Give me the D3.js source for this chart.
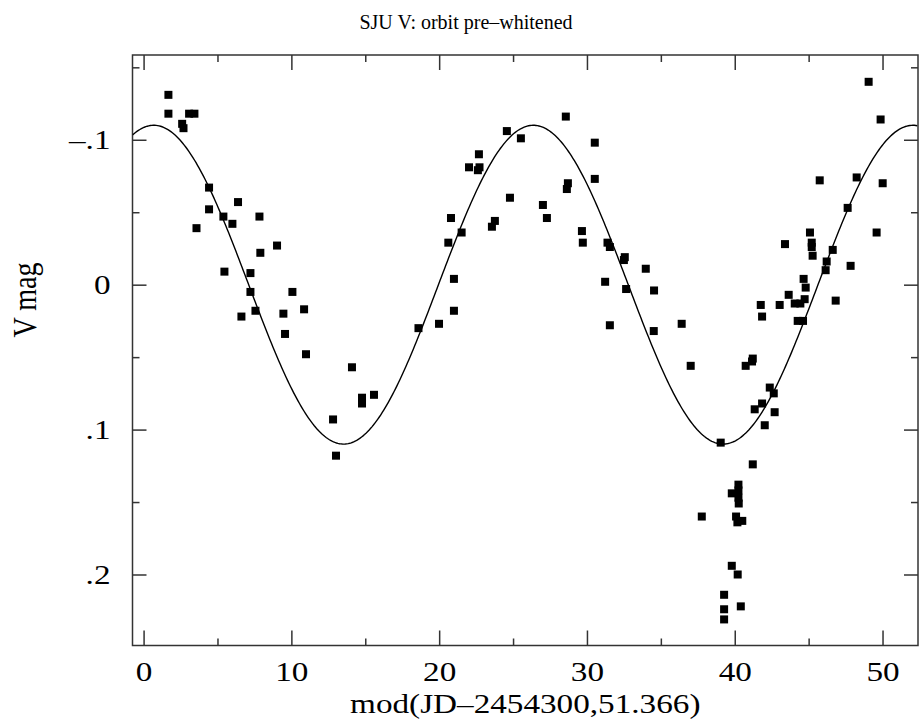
<!DOCTYPE html>
<html>
<head>
<meta charset="utf-8">
<script src="https://cdn.jsdelivr.net/npm/d3@7"></script>
<style>
  html, body { margin: 0; padding: 0; background: #fff; }
  svg { display: block; }
  text { font-family: "Liberation Serif", "Times New Roman", serif; fill: #000; }
</style>
</head>
<body>
<svg id="chart" width="919" height="728"></svg>
<script>
// ---- data ----
const phaseDays = [
  1.68, 1.68, 3.08, 3.44, 2.61, 2.70, 4.43, 4.43, 6.39, 5.40,
  6.01, 7.84, 3.58, 9.03, 7.90, 5.47, 7.23, 7.23, 10.07, 6.62,
  7.57, 9.46, 10.86, 9.57, 10.99, 14.10, 14.78, 14.78, 15.59, 12.82,
  13.02, 18.60, 28.57, 24.58, 25.53, 30.53, 22.69, 22.02, 22.73, 22.62,
  30.53, 28.71, 28.64, 24.79, 27.02, 27.29, 20.80, 21.52, 20.62, 23.77,
  23.57, 29.66, 29.72, 31.39, 31.55, 32.56, 32.50, 33.98, 21.00, 31.23,
  32.65, 34.54, 21.00, 19.99, 31.55, 34.52, 36.41, 37.02, 49.06, 49.87,
  45.75, 48.25, 50.01, 47.64, 49.60, 45.09, 43.40, 45.21, 45.21, 46.63,
  45.27, 46.22, 47.84, 46.15, 44.66, 44.80, 43.65, 41.76, 43.04, 44.06,
  44.44, 44.73, 46.83, 41.85, 44.26, 44.62, 41.22, 40.74, 41.17, 42.37,
  42.64, 41.85, 41.35, 42.70, 42.03, 39.05, 41.22, 40.25, 39.80, 40.25,
  40.25, 40.27, 37.77, 40.09, 40.18, 40.51, 39.80, 40.20, 39.28, 40.41,
  39.28, 39.28
];
const vMag = [
  -0.131, -0.118, -0.118, -0.118, -0.111, -0.108, -0.067, -0.052, -0.057, -0.047,
  -0.042, -0.047, -0.039, -0.027, -0.022, -0.009, -0.008, 0.005, 0.005, 0.022,
  0.018, 0.020, 0.017, 0.034, 0.048, 0.057, 0.078, 0.082, 0.076, 0.093,
  0.118, 0.030, -0.116, -0.106, -0.101, -0.098, -0.090, -0.081, -0.081, -0.079,
  -0.073, -0.070, -0.066, -0.060, -0.055, -0.046, -0.046, -0.036, -0.029, -0.044,
  -0.040, -0.037, -0.029, -0.029, -0.026, -0.019, -0.017, -0.011, -0.004, -0.002,
  0.003, 0.004, 0.018, 0.027, 0.028, 0.032, 0.027, 0.056, -0.140, -0.114,
  -0.072, -0.074, -0.070, -0.053, -0.036, -0.036, -0.028, -0.029, -0.026, -0.024,
  -0.020, -0.016, -0.013, -0.010, -0.004, 0.002, 0.007, 0.014, 0.014, 0.013,
  0.013, 0.010, 0.011, 0.022, 0.025, 0.025, 0.051, 0.056, 0.053, 0.071,
  0.075, 0.082, 0.086, 0.088, 0.097, 0.109, 0.124, 0.138, 0.144, 0.142,
  0.147, 0.151, 0.160, 0.160, 0.164, 0.163, 0.194, 0.200, 0.214, 0.222,
  0.224, 0.231
];
// fitted orbital (sinusoid) model drawn through the data
const fitAmplitude = 0.11;     // mag
const fitPeriod = 25.683;      // days (half of 51.366)
const fitPeakPhase = 0.69;     // day of brightest (most negative) model value

const xMajorTicks = [0, 10, 20, 30, 40, 50];
const xMinorTicks = [5, 15, 25, 35, 45];
const yMajorTicks = [-0.1, 0, 0.1, 0.2];
const yMajorLabels = ["\u2013.1", "0", ".1", ".2"];
const yMinorTicks = [-0.15, -0.05, 0.05, 0.15];

const titleText = "SJU V: orbit pre\u2013whitened";
const xLabelText = "mod(JD\u20132454300,51.366)";
const yLabelText = "V mag";

// ---- layout ----
const svg = d3.select("#chart");
const L = 132.5, R = 918, T = 55, B = 645.5;
const SX = 1.23;   // the reference's lettering is drawn wider than tall

const x = d3.scaleLinear().domain([-0.75, 52.4]).range([L, R]);
const y = d3.scaleLinear().domain([-0.1585, 0.249]).range([T, B]);

const frameColor = "#333";

// frame
svg.append("rect")
  .attr("x", L).attr("y", T).attr("width", R - L).attr("height", B - T)
  .attr("fill", "none").attr("stroke", frameColor).attr("stroke-width", 1.5);

function styleAxis(g) {
  g.select(".domain").remove();
  g.selectAll(".tick line").attr("stroke", frameColor).attr("stroke-width", 1.5);
  g.selectAll(".tick text")
    .style("font-family", "'Liberation Serif', 'Times New Roman', serif")
    .style("font-size", "27px").attr("fill", "#000")
    .each(function () {
      const t = d3.select(this);
      const tx = +t.attr("x") || 0;
      t.attr("x", 0).attr("transform", `translate(${tx},0) scale(${SX},1)`);
    });
}

const yFmt = d => yMajorLabels[yMajorTicks.indexOf(d)];

// bottom
svg.append("g").attr("transform", `translate(0,${B})`)
  .call(d3.axisBottom(x).tickValues(xMajorTicks).tickSizeInner(-15).tickSizeOuter(0).tickPadding(16).tickFormat(d3.format("d")))
  .call(styleAxis);
svg.append("g").attr("transform", `translate(0,${B})`)
  .call(d3.axisBottom(x).tickValues(xMinorTicks).tickSizeInner(-7).tickSizeOuter(0).tickFormat(""))
  .call(styleAxis);
// top
svg.append("g").attr("transform", `translate(0,${T})`)
  .call(d3.axisTop(x).tickValues(xMajorTicks).tickSizeInner(-15).tickSizeOuter(0).tickFormat(""))
  .call(styleAxis);
svg.append("g").attr("transform", `translate(0,${T})`)
  .call(d3.axisTop(x).tickValues(xMinorTicks).tickSizeInner(-7).tickSizeOuter(0).tickFormat(""))
  .call(styleAxis);
// left
svg.append("g").attr("transform", `translate(${L},0)`)
  .call(d3.axisLeft(y).tickValues(yMajorTicks).tickSizeInner(-14).tickSizeOuter(0).tickPadding(22).tickFormat(yFmt))
  .call(styleAxis);
svg.append("g").attr("transform", `translate(${L},0)`)
  .call(d3.axisLeft(y).tickValues(yMinorTicks).tickSizeInner(-7).tickSizeOuter(0).tickFormat(""))
  .call(styleAxis);
// right
svg.append("g").attr("transform", `translate(${R},0)`)
  .call(d3.axisRight(y).tickValues(yMajorTicks).tickSizeInner(-14).tickSizeOuter(0).tickFormat(""))
  .call(styleAxis);
svg.append("g").attr("transform", `translate(${R},0)`)
  .call(d3.axisRight(y).tickValues(yMinorTicks).tickSizeInner(-7).tickSizeOuter(0).tickFormat(""))
  .call(styleAxis);

// clip
svg.append("clipPath").attr("id", "plotclip")
  .append("rect").attr("x", L).attr("y", T).attr("width", R - L).attr("height", B - T);

// model curve
const [x0, x1] = x.domain();
const curveX = d3.range(x0, x1 + 0.001, 0.1);
const model = t => -fitAmplitude * Math.cos(2 * Math.PI * (t - fitPeakPhase) / fitPeriod);
svg.append("path")
  .datum(curveX)
  .attr("clip-path", "url(#plotclip)")
  .attr("fill", "none").attr("stroke", "#000").attr("stroke-width", 1.4)
  .attr("d", d3.line().x(d => x(d)).y(d => y(model(d))));

// points
const pts = phaseDays.map((p, i) => ({ p, m: vMag[i] }));
const S = 8;
svg.append("g").attr("clip-path", "url(#plotclip)")
  .selectAll("rect.pt").data(pts).join("rect")
  .attr("class", "pt")
  .attr("x", d => x(d.p) - S / 2).attr("y", d => y(d.m) - S / 2)
  .attr("width", S).attr("height", S).attr("fill", "#000");

// labels
svg.append("text").attr("transform", `translate(466,29)`).attr("text-anchor", "middle")
  .style("font-size", "20px").text(titleText);
svg.append("text").attr("transform", `translate(${(L + R) / 2},713) scale(${SX},1)`).attr("text-anchor", "middle")
  .style("font-size", "27px").text(xLabelText);
svg.append("text").attr("transform", `translate(36,300) scale(${SX},1) rotate(-90)`)
  .attr("text-anchor", "middle").style("font-size", "28px").text(yLabelText);
</script>
</body>
</html>
